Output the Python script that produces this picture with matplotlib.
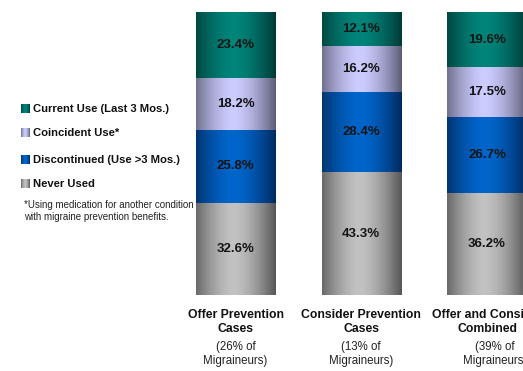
import numpy as np
import matplotlib
matplotlib.use('Agg')
import matplotlib.pyplot as plt
import matplotlib.colors as mcolors

plt.rcParams['font.family'] = ['Liberation Sans', 'DejaVu Sans']

# Stacked shares (%) per group, bottom to top
categories = ['Offer Prevention\nCases', 'Consider Prevention\nCases', 'Offer and Consider\nCombined']
subtitles = ['(26% of\nMigraineurs)', '(13% of\nMigraineurs)', '(39% of\nMigraineurs)']
series = ['Never Used', 'Discontinued (Use >3 Mos.)', 'Coincident Use*', 'Current Use (Last 3 Mos.)']
never_used = [32.6, 43.3, 36.2]
discontinued = [25.8, 28.4, 26.7]
coincident = [18.2, 16.2, 17.5]
current = [23.4, 12.1, 19.6]
footnote = '*Using medication for another condition\nwith migraine prevention benefits.'

# (edge colour, centre colour) for the cylinder shading
shades = [('#555555', '#c2c2c2'),
          ('#002a5e', '#0066cc'),
          ('#5c5c76', '#ccccff'),
          ('#003a36', '#00857a')]


def gradient(edge, centre, n=200):
    t = np.linspace(0, 1, n)
    f = 1 - np.abs((t - 0.47) / 0.53) ** 1.6
    f = np.clip(f, 0, 1)
    e = np.array(mcolors.to_rgb(edge))
    c = np.array(mcolors.to_rgb(centre))
    row = e[None, :] + (c - e)[None, :] * f[:, None]
    return row[None, :, :]


W, H = 523, 371
fig = plt.figure(figsize=(W / 100, H / 100), dpi=100)

# bar axes placed in pixel terms
unit = 125.75
x0 = 235.5
left_px, right_px = 170, 523
ax = fig.add_axes([left_px / W, (H - 295) / H, (right_px - left_px) / W, (295 - 12) / H])
ax.set_xlim((left_px - x0) / unit, (right_px - x0) / unit)
ax.set_ylim(0, 100)
ax.axis('off')

x = np.arange(len(categories))
width = 79.5 / unit
stack = [never_used, discontinued, coincident, current]
bottom = np.zeros(len(categories))
for vals, (edge, centre) in zip(stack, shades):
    bars = ax.bar(x, vals, width, bottom=bottom, color='none', edgecolor='none')
    img = gradient(edge, centre)
    for b, v in zip(bars, vals):
        bx, by = b.get_x(), b.get_y()
        im = ax.imshow(img, extent=[bx, bx + b.get_width(), by, by + b.get_height()],
                       aspect='auto', interpolation='bilinear', zorder=1)
        im.set_clip_path(b)
        ax.text(bx + b.get_width() / 2, by + v / 2, '%.1f%%' % v, ha='center', va='center',
                fontsize=9.5, fontweight='bold', color='#141414', zorder=3, clip_on=False)
    bottom += np.array(vals)

# overlay axes in pixel coordinates for labels and legend
ov = fig.add_axes([0, 0, 1, 1])
ov.set_xlim(0, W)
ov.set_ylim(H, 0)
ov.axis('off')
ov.patch.set_alpha(0)

sub_shift = [0, 0, 8]
for i, (cat, sub) in enumerate(zip(categories, subtitles)):
    cx = x0 + i * unit
    ov.text(cx, 322, cat, ha='center', va='center', fontsize=8.8, fontweight='bold',
            linespacing=1.15, color='#111111')
    ov.text(cx + sub_shift[i], 354, sub, ha='center', va='center', fontsize=8.3,
            linespacing=1.2, color='#222222')

# legend, top entry first
legend_y = [109, 133, 160, 184]
for yy, name, (edge, centre) in zip(legend_y, series[::-1], shades[::-1]):
    ov.imshow(gradient(edge, centre), extent=[21, 30, yy + 4.5, yy - 4.5],
              aspect='auto', interpolation='bilinear')
    ov.text(33, yy, name, ha='left', va='center', fontsize=8.1, fontweight='bold',
            color='#111111')
ov.set_xlim(0, W)
ov.set_ylim(H, 0)

ov.text(24, 211, footnote, ha='left', va='center', fontsize=7, linespacing=1.25,
        color='#222222')

plt.savefig('out.png', dpi=100)
